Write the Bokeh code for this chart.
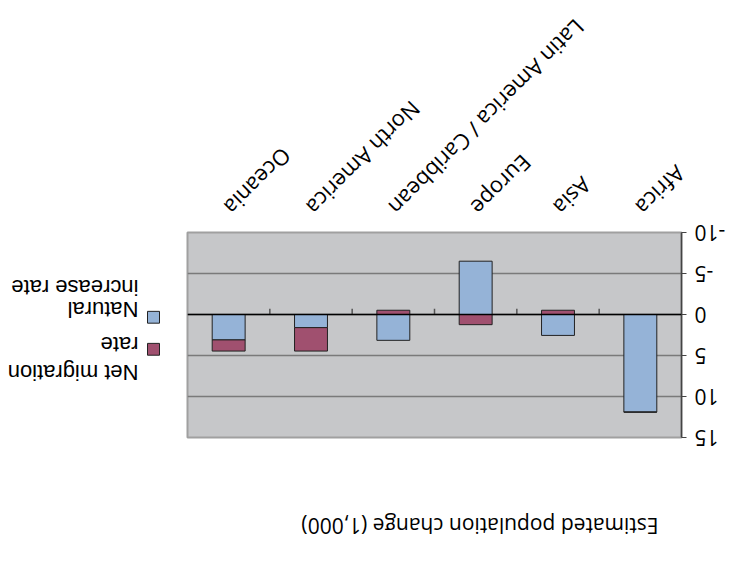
import math
from bokeh.plotting import figure
from bokeh.layouts import row, column
from bokeh.models import Range1d, FactorRange, FixedTicker, Span, ColumnDataSource
from bokeh.embed import file_html
from bokeh.resources import INLINE
from bokeh.core.properties import value

# ---------------- data ----------------
regions = ["Africa", "Asia", "Europe", "Latin America / Caribbean", "North America", "Oceania"]
natural_increase = [11.9, 2.55, -6.5, 3.15, 1.6, 3.1]
net_migration = [0.0, -0.52, 1.24, -0.52, 2.86, 1.36]
y_ticks = [-10, -5, 0, 5, 10, 15]
y_tick_labels = ["-10", "-5", "0", "5", "10", "15"]
series_names = ["Net migration rate", "Natural increase rate"]
legend_lines = ["Net migration", "rate", "Natural", "increase rate"]
title_text = "Estimated population change (1,000)"

BLUE = "#95b3d7"
RED = "#a0506f"
BG = "#c6c7c9"

# Excel-style stacking: positives and negatives stack separately
n = len(regions)
pos_base = [0.0] * n
neg_base = [0.0] * n
stacks = []
for vals in (natural_increase, net_migration):
    bottoms, tops = [], []
    for i, v in enumerate(vals):
        if v >= 0:
            bottoms.append(pos_base[i]); tops.append(pos_base[i] + v); pos_base[i] += v
        else:
            bottoms.append(neg_base[i]); tops.append(neg_base[i] + v); neg_base[i] += v
    stacks.append((bottoms, tops))

W, H = 733, 562
HT = 60                    # height of the title strip
WP = 555
FL, FR = 51, 545           # frame left / right (px, un-rotated)
FT, FB = 124, 332          # frame top / bottom (px from top, un-rotated)

# ---------------- title strip ----------------
t = figure(width=W, height=HT, x_range=Range1d(FL, FR), y_range=Range1d(HT, 0),
           output_backend="svg", toolbar_location=None, min_border_left=FL,
           min_border_right=W - FR, min_border_top=0, min_border_bottom=0)
t.axis.visible = False
t.grid.visible = False
t.outline_line_color = None
t.background_fill_color = "white"
t.border_fill_color = "white"
t.text(x=[74], y=[36], text=[title_text], text_font=value("Open Sans"),
       text_font_size="21px", text_color="black", text_baseline="alphabetic",
       text_align="left")

# ---------------- main plot ----------------
p = figure(x_range=FactorRange(*regions), y_range=Range1d(-10, 15),
           width=WP, height=H - HT, output_backend="svg", toolbar_location=None,
           min_border_left=FL, min_border_right=WP - FR, min_border_top=FT - HT,
           min_border_bottom=H - FB)
p.background_fill_color = BG
p.border_fill_color = "white"
p.outline_line_color = "#a0a0a0"
p.outline_line_width = 2

# grid
p.xgrid.grid_line_color = None
p.ygrid.ticker = FixedTicker(ticks=y_ticks)
p.ygrid.grid_line_color = "#7a7a7a"
p.ygrid.grid_line_width = 1.5

# y axis
p.yaxis.ticker = FixedTicker(ticks=y_ticks)
p.yaxis.major_label_overrides = {tk: s for tk, s in zip(y_ticks, y_tick_labels)}
p.yaxis.axis_line_color = "#444444"
p.yaxis.axis_line_width = 1.5
p.yaxis.major_tick_line_color = "#444444"
p.yaxis.major_tick_out = 5
p.yaxis.major_tick_in = 0
p.yaxis.minor_tick_line_color = None
p.yaxis.major_label_text_font = "Open Sans"
p.yaxis.major_label_text_font_size = "21px"
p.yaxis.major_label_text_color = "black"
p.yaxis.major_label_standoff = 8

# x axis (labels at bottom of plot, ticks on the zero line)
p.xaxis.axis_line_color = None
p.xaxis.major_tick_line_color = None
p.xaxis.minor_tick_line_color = None
p.xaxis.major_label_orientation = math.pi / 4
p.xaxis.major_label_text_font = "Open Sans"
p.xaxis.major_label_text_font_size = "22px"
p.xaxis.major_label_text_color = "black"
p.xaxis.major_label_standoff = 15

# bars
src_nat = ColumnDataSource(dict(x=regions, bottom=stacks[0][0], top=stacks[0][1]))
src_mig = ColumnDataSource(dict(x=regions, bottom=stacks[1][0], top=stacks[1][1]))
p.vbar(x="x", bottom="bottom", top="top", width=0.4, source=src_nat,
       fill_color=BLUE, line_color="#222222", line_width=1)
p.vbar(x="x", bottom="bottom", top="top", width=0.4, source=src_mig,
       fill_color=RED, line_color="#222222", line_width=1)

# zero line and category ticks on it
p.add_layout(Span(location=0, dimension="width", line_color="black", line_width=1.5))
bounds = list(range(1, n))
p.segment(x0=bounds, x1=bounds, y0=[0] * len(bounds), y1=[-0.7] * len(bounds),
          line_color="#555555", line_width=1.5)

# ---------------- legend panel ----------------
# its frame is aligned with the plot frame, so the y range is in px from the top
WQ = W - WP
q = figure(width=WQ, height=H - HT, x_range=Range1d(0, WQ), y_range=Range1d(FB, FT),
           output_backend="svg", toolbar_location=None, min_border_left=0,
           min_border_right=0, min_border_top=FT - HT, min_border_bottom=H - FB)
q.axis.visible = False
q.grid.visible = False
q.outline_line_color = None
q.background_fill_color = "white"
q.border_fill_color = "white"
q.rect(x=[24, 24], y=[213.5, 246], width=12, height=12,
       fill_color=[RED, BLUE], line_color="#222222", line_width=1)
q.text(x=[39] * 4, y=[190, 218, 254, 276], text=legend_lines,
       text_font=value("Liberation Sans"), text_font_size="22px",
       text_color="black", text_baseline="alphabetic", text_align="left")

layout = column(t, row(p, q, spacing=0), spacing=0)
# the reference is shown upside-down
layout.styles = {"transform": "rotate(180deg)"}

open("out.html", "w").write(file_html(layout, INLINE))
